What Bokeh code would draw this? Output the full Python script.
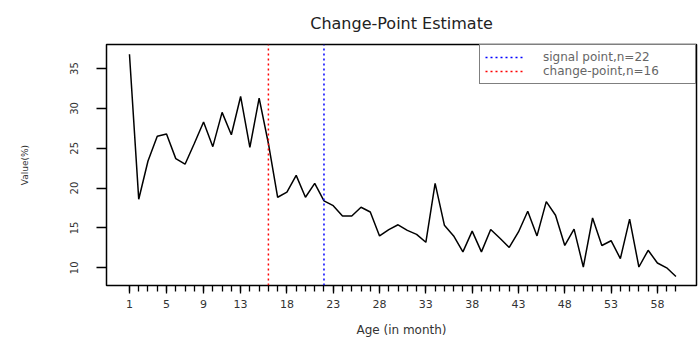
from bokeh.plotting import figure
from bokeh.models import Range1d, FixedTicker, Legend, LegendItem
from bokeh.embed import file_html
from bokeh.resources import INLINE

# ---- data ----
months = list(range(1, 61))
values = [36.8, 18.6, 23.4, 26.5, 26.8, 23.7, 23.0, 25.6, 28.3, 25.2,
          29.5, 26.7, 31.5, 25.1, 31.3, 25.6, 18.85, 19.5, 21.6, 18.85,
          20.6, 18.4, 17.8, 16.5, 16.5, 17.6, 17.0, 14.0, 14.8, 15.4,
          14.7, 14.2, 13.2, 20.6, 15.35, 14.0, 12.0, 14.6, 12.0, 14.8,
          13.7, 12.55, 14.5, 17.1, 14.0, 18.3, 16.6, 12.8, 14.85, 10.1,
          16.25, 12.8, 13.4, 11.15, 16.1, 10.1, 12.2, 10.6, 10.0, 8.9]
x_tick_values = [1, 5, 9, 13, 18, 23, 28, 33, 38, 43, 48, 53, 58]
y_tick_values = [10, 15, 20, 25, 30, 35]
signal_point = 22
change_point = 16
signal_label = "signal point,n=22"
change_label = "change-point,n=16"

y_lo, y_hi = 7.78, 38.02

p = figure(width=700, height=339, output_backend="svg", toolbar_location=None,
           x_range=Range1d(-1.48, 62.22), y_range=Range1d(y_lo, y_hi),
           min_border_left=106, min_border_right=4, min_border_top=43,
           min_border_bottom=51)

p.title.text = "Change-Point Estimate"
p.title.align = "center"
p.title.text_font = "DejaVu Sans"
p.title.text_font_size = "16px"
p.title.text_font_style = "normal"
p.title.text_color = "#222222"
p.title.standoff = 23

p.grid.visible = False
p.outline_line_color = "black"
p.outline_line_width = 1.5
p.background_fill_color = "white"
p.border_fill_color = "white"

# x axis
p.xaxis.ticker = FixedTicker(ticks=x_tick_values, minor_ticks=months)
p.xaxis.axis_line_color = None
p.xaxis.major_tick_in = 0
p.xaxis.major_tick_out = 8
p.xaxis.minor_tick_in = 0
p.xaxis.minor_tick_out = 6
p.xaxis.major_tick_line_width = 1.3
p.xaxis.minor_tick_line_width = 1.3
p.xaxis.major_label_text_font = "DejaVu Sans"
p.xaxis.major_label_text_font_size = "11px"
p.xaxis.major_label_text_color = "#333333"
p.xaxis.major_label_standoff = 6
p.xaxis.axis_label = "Age (in month)"
p.xaxis.axis_label_text_font = "DejaVu Sans"
p.xaxis.axis_label_text_font_size = "12px"
p.xaxis.axis_label_text_font_style = "normal"
p.xaxis.axis_label_text_color = "#333333"
p.xaxis.axis_label_standoff = 12

# y axis
p.yaxis.ticker = FixedTicker(ticks=y_tick_values, minor_ticks=[])
p.yaxis.axis_line_color = None
p.yaxis.major_tick_in = 0
p.yaxis.major_tick_out = 10
p.yaxis.major_tick_line_width = 1.3
p.yaxis.major_label_orientation = "vertical"
p.yaxis.major_label_text_font = "DejaVu Sans"
p.yaxis.major_label_text_font_size = "10px"
p.yaxis.major_label_text_color = "#333333"
p.yaxis.major_label_standoff = 18
p.yaxis.axis_label = "Value(%)"
p.yaxis.axis_label_text_font = "DejaVu Sans"
p.yaxis.axis_label_text_font_size = "9px"
p.yaxis.axis_label_text_font_style = "normal"
p.yaxis.axis_label_text_color = "#333333"
p.yaxis.axis_label_standoff = 38

# main series
p.line(months, values, line_color="black", line_width=1.5)

# vertical marker lines spanning the full y range
r_chg = p.line(x=[change_point, change_point], y=[y_lo, y_hi], line_color="red",
               line_dash="2 3", line_width=1.5)
r_sig = p.line(x=[signal_point, signal_point], y=[y_lo, y_hi], line_color="blue",
               line_dash="2 3", line_width=1.5)

legend = Legend(items=[LegendItem(label=signal_label, renderers=[r_sig]),
                       LegendItem(label=change_label, renderers=[r_chg])],
                location="top_right")
legend.margin = 0
legend.padding = 5
legend.spacing = 0
legend.glyph_width = 40
legend.glyph_height = 10
legend.label_height = 10
legend.label_width = 147
legend.label_standoff = 18
legend.label_text_font = "DejaVu Sans"
legend.label_text_font_size = "12px"
legend.label_text_color = "#666666"
legend.border_line_color = "black"
legend.border_line_width = 1.5
legend.background_fill_color = "white"
legend.background_fill_alpha = 1.0
p.add_layout(legend)

open("out.html", "w").write(file_html(p, INLINE))
